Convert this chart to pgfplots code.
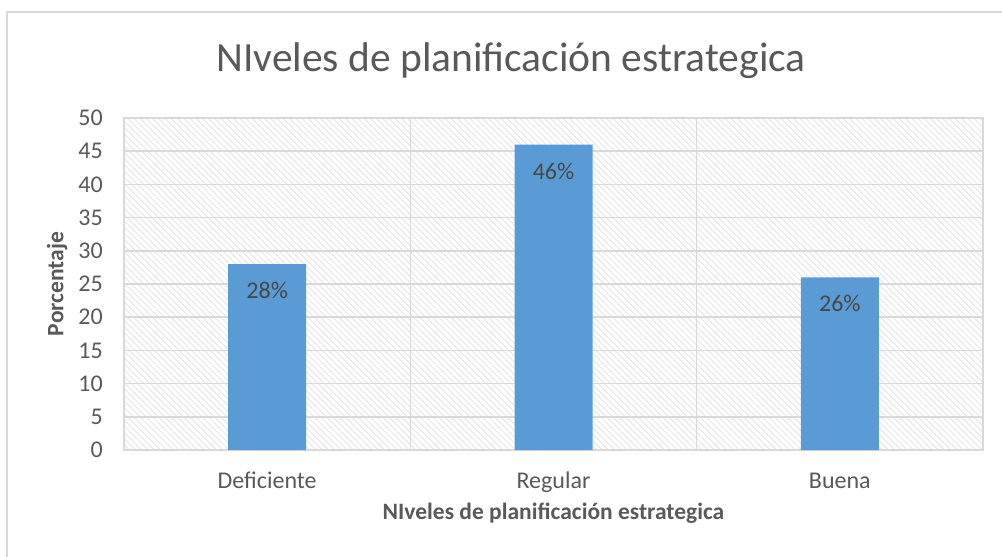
\documentclass[border=0pt]{standalone}
\usepackage{pgfplots}
\pgfplotsset{compat=1.18}
\usepackage{fontspec}
\setmainfont{Carlito}
\usetikzlibrary{patterns.meta}
\definecolor{barblue}{HTML}{5B9BD5}
\definecolor{gridgray}{HTML}{D9D9D9}
\definecolor{txtgray}{HTML}{595959}
\definecolor{hatch}{HTML}{E6E6E6}
\begin{document}
\begin{tikzpicture}
\path[use as bounding box] (-124pt,-107pt) rectangle (878pt,450pt);
\draw[gridgray, line width=1.5pt] (-117pt,-110pt) -- (-117pt,438pt) -- (880pt,438pt);
\fill[pattern={Lines[angle=-45,distance=4.4pt,line width=1pt]}, pattern color=hatch] (0pt,0pt) rectangle (859pt,332pt);
\begin{axis}[
  at={(0pt,0pt)}, anchor=south west,
  scale only axis, width=859pt, height=332pt,
  ybar, bar width=78pt,
  xmin=-0.5, xmax=2.5, ymin=0, ymax=50,
  ytick={0,5,...,50},
  xtick={0,1,2},
  xticklabels={Deficiente,Regular,Buena},
  minor xtick={0.5,1.5},
  xminorgrids=true, ymajorgrids=true,
  grid style={gridgray, line width=1.5pt},
  minor grid style={gridgray, line width=1.5pt},
  axis line style={gridgray, line width=1.5pt},
  major tick length=0pt, minor tick length=0pt,
  tick label style={font=\fontsize{24}{28}\selectfont, text=txtgray},
  /pgf/number format/assume math mode=true,
  yticklabel style={anchor=east, inner sep=0pt, xshift=-21pt},
  xticklabel style={anchor=base, inner sep=0pt, yshift=-38pt},
  xlabel={\bfseries NIveles de planificación estrategica},
  ylabel={\bfseries Porcentaje},
  label style={font=\fontsize{23.5}{28}\selectfont, text=txtgray},
  xlabel style={at={(axis description cs:0.5,0)}, anchor=base, inner sep=0pt, yshift=-69pt},
  ylabel style={at={(axis description cs:0,0.5)}, anchor=center, inner sep=0pt, yshift=67pt},
  title={NIveles de planificación estrategica},
  title style={font=\fontsize{41.5}{48}\selectfont, text=txtgray, at={(rel axis cs:0.4505,1)}, anchor=base, inner sep=0pt, yshift=41pt},
  nodes near coords={\pgfmathprintnumber{\pgfplotspointmeta}\%},
  every node near coord/.append style={anchor=base, inner sep=0pt, yshift=-34.5pt, font=\fontsize{24}{28}\selectfont, text=txtgray!80!black},
]
\addplot[fill=barblue, draw=none] coordinates {(0,28) (1,46) (2,26)};
\end{axis}
\end{tikzpicture}
\end{document}
